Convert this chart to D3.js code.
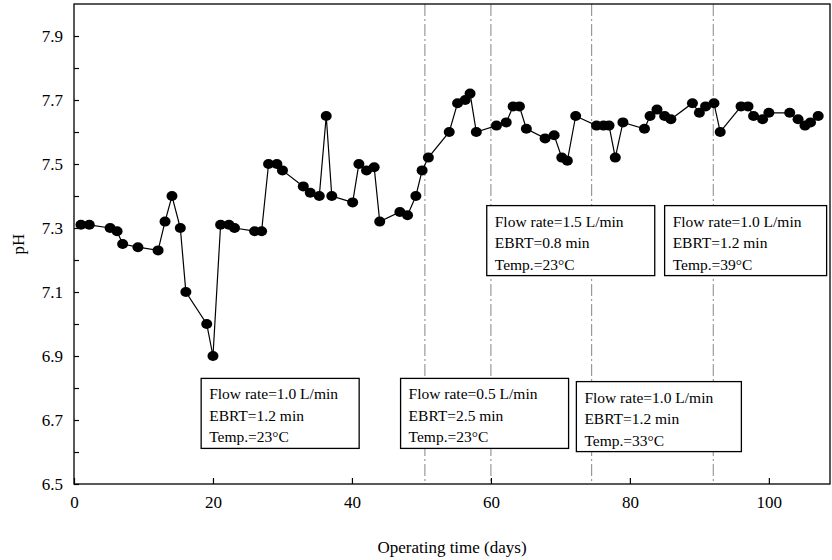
<!DOCTYPE html>
<html>
<head>
<meta charset="utf-8">
<script src="https://cdn.jsdelivr.net/npm/d3@7"></script>
<style>
  body { margin: 0; background: #fff; }
  svg text { font-family: "Liberation Serif", "DejaVu Serif", serif; fill: #000; }
</style>
</head>
<body>
<div id="chart"></div>
<script>
// operating day of each sample
var days = [1, 2.2, 5.2, 6.2, 7.0, 9.2, 12.1, 13.1, 14.1, 15.3, 16.1, 19.1, 20.0,
  21.1, 22.3, 23.1, 26.0, 27.0, 28.0, 29.2, 30.0, 33.0, 34.0, 35.3, 36.3, 37.1,
  40.1, 41.0, 42.1, 43.2, 44.0, 46.9, 48.0, 49.2, 50.1, 51.0, 54.0, 55.2, 56.3,
  57.0, 57.9, 60.8, 62.2, 63.2, 64.1, 65.1, 67.8, 69.1, 70.2, 71.0, 72.2, 75.2,
  76.2, 77.0, 77.9, 79.0, 82.1, 82.9, 83.9, 85.0, 85.9, 89.0, 90.0, 90.9, 92.1,
  93.0, 96.0, 97.0, 97.8, 99.1, 100.0, 103.0, 104.2, 105.2, 106.0, 107.1];

// pH
var phValues = [7.31, 7.31, 7.30, 7.29, 7.25, 7.24, 7.23, 7.32, 7.40, 7.30, 7.10, 7.00, 6.90,
  7.31, 7.31, 7.30, 7.29, 7.29, 7.50, 7.50, 7.48, 7.43, 7.41, 7.40, 7.65, 7.40,
  7.38, 7.50, 7.48, 7.49, 7.32, 7.35, 7.34, 7.40, 7.48, 7.52, 7.60, 7.69, 7.70,
  7.72, 7.60, 7.62, 7.63, 7.68, 7.68, 7.61, 7.58, 7.59, 7.52, 7.51, 7.65, 7.62,
  7.62, 7.62, 7.52, 7.63, 7.61, 7.65, 7.67, 7.65, 7.64, 7.69, 7.66, 7.68, 7.69,
  7.60, 7.68, 7.68, 7.65, 7.64, 7.66, 7.66, 7.64, 7.62, 7.63, 7.65];

// phase boundaries (days)
var phaseLines = [50.5, 60, 74.5, 92];

// tick values
var xTicks = [0, 20, 40, 60, 80, 100];
var yTicks = d3.range(65, 80).map(function(v) { return v / 10; });

// condition boxes: anchor (day, pH of top edge), width in px, text lines
var boxDays = [18.3, 47, 72.3, 59.4, 85];
var boxTops = [6.83, 6.83, 6.82, 7.37, 7.37];
var boxWidths = [158, 168, 165, 168, 162];
var boxTexts = [
  ["Flow rate=1.0 L/min", "EBRT=1.2 min", "Temp.=23°C"],
  ["Flow rate=0.5 L/min", "EBRT=2.5 min", "Temp.=23°C"],
  ["Flow rate=1.0 L/min", "EBRT=1.2 min", "Temp.=33°C"],
  ["Flow rate=1.5 L/min", "EBRT=0.8 min", "Temp.=23°C"],
  ["Flow rate=1.0 L/min", "EBRT=1.2 min", "Temp.=39°C"]
];

var width = 832;
var height = 560;
var plotLeft = 74;
var plotRight = 830;
var plotTop = 4;
var plotBottom = 484;

var data = days.map(function(d, i) { return { day: d, ph: phValues[i] }; });

var svg = d3.select("#chart")
  .append("svg")
  .attr("width", width)
  .attr("height", height);

var xScale = d3.scaleLinear()
  .domain([0, 108.8])
  .range([plotLeft, plotRight]);

var yScale = d3.scaleLinear()
  .domain([6.5, 8.0])
  .range([plotBottom, plotTop]);

// phase lines (dash-dot)
svg.append("g")
  .selectAll("line")
  .data(phaseLines)
  .enter()
  .append("line")
  .attr("x1", function(d) { return xScale(d); })
  .attr("x2", function(d) { return xScale(d); })
  .attr("y1", plotTop)
  .attr("y2", plotBottom)
  .attr("stroke", "#666")
  .attr("stroke-width", 0.8)
  .attr("stroke-dasharray", "12,3,2,3");

// axes
var xAxis = d3.axisBottom(xScale)
  .tickValues(xTicks)
  .tickSizeInner(-6)
  .tickSizeOuter(0)
  .tickPadding(12);

var yAxis = d3.axisLeft(yScale)
  .tickValues(yTicks)
  .tickSizeInner(-5)
  .tickSizeOuter(0)
  .tickPadding(11)
  .tickFormat(function(v) {
    return Math.round(v * 10) % 2 === 1 ? v.toFixed(1) : "";
  });

var gx = svg.append("g")
  .attr("transform", "translate(0," + plotBottom + ")")
  .call(xAxis);
var gy = svg.append("g")
  .attr("transform", "translate(" + plotLeft + ",0)")
  .call(yAxis);

[gx, gy].forEach(function(g) {
  g.select(".domain").remove();
  g.selectAll(".tick line").attr("stroke", "#000").attr("stroke-width", 1.2);
  g.selectAll(".tick text").style("font-size", "17px");
});

// frame
svg.append("rect")
  .attr("x", plotLeft)
  .attr("y", plotTop)
  .attr("width", plotRight - plotLeft)
  .attr("height", plotBottom - plotTop)
  .attr("fill", "none")
  .attr("stroke", "#000")
  .attr("stroke-width", 1.3);

// condition boxes
var boxes = svg.append("g")
  .selectAll("g")
  .data(boxTexts)
  .enter()
  .append("g")
  .attr("transform", function(d, i) {
    return "translate(" + xScale(boxDays[i]) + "," + yScale(boxTops[i]) + ")";
  });

boxes.append("rect")
  .attr("width", function(d, i) { return boxWidths[i]; })
  .attr("height", 70)
  .attr("fill", "#fff")
  .attr("stroke", "#000")
  .attr("stroke-width", 1.3);

boxes.selectAll("text")
  .data(function(d) { return d; })
  .enter()
  .append("text")
  .attr("x", 8)
  .attr("y", function(d, j) { return 21 + j * 21.5; })
  .style("font-size", "15.5px")
  .text(function(d) { return d; });

// line + points
var line = d3.line()
  .x(function(d) { return xScale(d.day); })
  .y(function(d) { return yScale(d.ph); });

svg.append("path")
  .datum(data)
  .attr("d", line)
  .attr("fill", "none")
  .attr("stroke", "#000")
  .attr("stroke-width", 1.2);

svg.append("g")
  .selectAll("ellipse")
  .data(data)
  .enter()
  .append("ellipse")
  .attr("cx", function(d) { return xScale(d.day); })
  .attr("cy", function(d) { return yScale(d.ph); })
  .attr("rx", 5.5)
  .attr("ry", 5)
  .attr("fill", "#000");

// axis titles
svg.append("text")
  .attr("x", (plotLeft + plotRight) / 2)
  .attr("y", 553)
  .attr("text-anchor", "middle")
  .style("font-size", "17px")
  .text("Operating time (days)");

svg.append("text")
  .attr("transform", "translate(24," + (plotTop + plotBottom) / 2 + ")rotate(-90)")
  .attr("text-anchor", "middle")
  .style("font-size", "17px")
  .text("pH");
</script>
</body>
</html>
